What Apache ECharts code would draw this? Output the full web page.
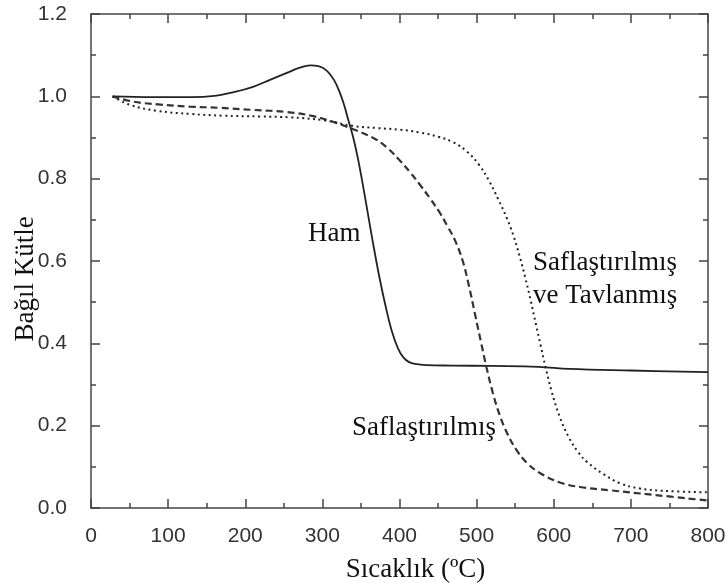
<!DOCTYPE html>
<html>
<head>
<meta charset="utf-8">
<script src="https://cdn.jsdelivr.net/npm/echarts@6/dist/echarts.min.js"></script>
<style>
  html, body { margin: 0; padding: 0; background: #fff; }
  #chart { width: 728px; height: 588px; }
</style>
</head>
<body>
<div id="chart"></div>
<script>
  // Ham (solid)
  var hamT = [28, 80, 130, 160, 185, 210, 232, 254, 270, 284, 296, 306, 315, 322, 328, 334, 340, 346, 352, 359, 366, 374, 382, 390, 398, 405, 412, 420, 435, 470, 520, 580, 620, 700, 800];
  var hamM = [1.0, 0.998, 0.998, 1.001, 1.01, 1.023, 1.04, 1.057, 1.069, 1.075, 1.073, 1.062, 1.04, 1.012, 0.98, 0.94, 0.9, 0.85, 0.79, 0.715, 0.64, 0.56, 0.49, 0.43, 0.388, 0.366, 0.355, 0.35, 0.347, 0.346, 0.345, 0.343, 0.338, 0.334, 0.330];

  // Saflaştırılmış (dashed)
  var safT = [28, 55, 90, 128, 167, 210, 254, 288, 319, 340, 366, 384, 401, 414, 427, 440, 452, 462, 472, 482, 490, 498, 506, 513, 521, 530, 540, 552, 565, 582, 608, 634, 673, 729, 800];
  var safM = [1.0, 0.987, 0.98, 0.975, 0.972, 0.967, 0.962, 0.952, 0.935, 0.92, 0.899, 0.875, 0.843, 0.815, 0.784, 0.751, 0.718, 0.685, 0.65, 0.6, 0.54, 0.47, 0.40, 0.34, 0.28, 0.225, 0.18, 0.14, 0.11, 0.085, 0.062, 0.051, 0.043, 0.032, 0.018];

  // Saflaştırılmış ve Tavlanmış (dotted)
  var tavT = [28, 51, 85, 130, 171, 220, 258, 301, 340, 371, 400, 427, 450, 470, 488, 503, 516, 528, 539, 548, 556, 563, 570, 577, 583, 589, 597, 608, 620, 632, 643, 664, 686, 710, 740, 800];
  var tavM = [1.0, 0.979, 0.965, 0.957, 0.953, 0.951, 0.949, 0.942, 0.928, 0.923, 0.919, 0.912, 0.902, 0.888, 0.865, 0.834, 0.795, 0.75, 0.705, 0.66, 0.61, 0.56, 0.505, 0.445, 0.395, 0.345, 0.285, 0.22, 0.17, 0.135, 0.112, 0.083, 0.06, 0.048, 0.042, 0.038];

  var xTicks = [0, 100, 200, 300, 400, 500, 600, 700, 800];
  var yTicks = [0.0, 0.2, 0.4, 0.6, 0.8, 1.0, 1.2];

  function pairs(xs, ys) {
    return xs.map(function (x, i) { return [x, ys[i]]; });
  }

  var axisColor = '#444';
  var serif = '"Liberation Serif", "DejaVu Serif", serif';
  var sans = '"Liberation Sans", Arial, sans-serif';

  function xAx(pos, showLabel) {
    return {
      type: 'value', position: pos,
      min: xTicks[0], max: xTicks[xTicks.length - 1], interval: 100,
      axisLine: { show: true, onZero: false, lineStyle: { color: axisColor, width: 1.5 } },
      axisTick: { show: true, inside: true, length: 9, lineStyle: { color: axisColor, width: 1.5 } },
      minorTick: { show: true, splitNumber: 2, length: 5, lineStyle: { color: axisColor, width: 1.5 } },
      splitLine: { show: false },
      axisLabel: { show: showLabel, margin: 18, color: '#333', fontSize: 21, fontFamily: sans },
      name: showLabel ? 'Sıcaklık (ºC)' : '',
      nameLocation: 'middle', nameGap: 48,
      nameTextStyle: { color: '#111', fontSize: 27, fontFamily: serif, padding: [0, 0, 0, 32] }
    };
  }

  function yAx(pos, showLabel) {
    return {
      type: 'value', position: pos,
      min: yTicks[0], max: yTicks[yTicks.length - 1], interval: 0.2,
      axisLine: { show: true, onZero: false, lineStyle: { color: axisColor, width: 1.5 } },
      axisTick: { show: true, inside: true, length: 9, lineStyle: { color: axisColor, width: 1.5 } },
      minorTick: { show: true, splitNumber: 2, length: 5, lineStyle: { color: axisColor, width: 1.5 } },
      splitLine: { show: false },
      axisLabel: {
        show: showLabel, margin: 24, color: '#333', fontSize: 21, fontFamily: sans,
        formatter: function (v) { return v.toFixed(1); }
      },
      name: showLabel ? 'Bağıl Kütle' : '',
      nameLocation: 'middle', nameGap: 52, nameRotate: 90, nameMoveOverlap: false,
      nameTextStyle: { color: '#111', fontSize: 27, fontFamily: serif, padding: [0, 36, 0, 0] }
    };
  }

  var chart = echarts.init(document.getElementById('chart'), null, { renderer: 'canvas' });
  chart.setOption({
    animation: false,
    backgroundColor: '#fff',
    grid: { left: 91, right: 20, top: 14, bottom: 80, outerBoundsMode: 'none', containLabel: false },
    xAxis: [xAx('bottom', true), xAx('top', false)],
    yAxis: [yAx('left', true), yAx('right', false)],
    series: [
      {
        name: 'Ham', type: 'line', smooth: 0.4, showSymbol: false,
        data: pairs(hamT, hamM),
        lineStyle: { color: '#222', width: 1.8, type: 'solid' }
      },
      {
        name: 'Saflaştırılmış', type: 'line', smooth: 0.4, showSymbol: false,
        data: pairs(safT, safM),
        lineStyle: { color: '#333', width: 2.2, type: [7, 4] }
      },
      {
        name: 'Saflaştırılmış ve Tavlanmış', type: 'line', smooth: 0.4, showSymbol: false,
        data: pairs(tavT, tavM),
        lineStyle: { color: '#222', width: 2, type: [2, 3.5] }
      }
    ],
    graphic: [
      { type: 'text', left: 308, top: 220, style: { text: 'Ham', fill: '#111', font: '27px ' + serif } },
      { type: 'text', left: 352, top: 414, style: { text: 'Saflaştırılmış', fill: '#111', font: '27px ' + serif } },
      { type: 'text', left: 533, top: 246, style: { text: 'Saflaştırılmış\nve Tavlanmış', fill: '#111', font: '27px ' + serif, lineHeight: 33 } }
    ]
  });
</script>
</body>
</html>
